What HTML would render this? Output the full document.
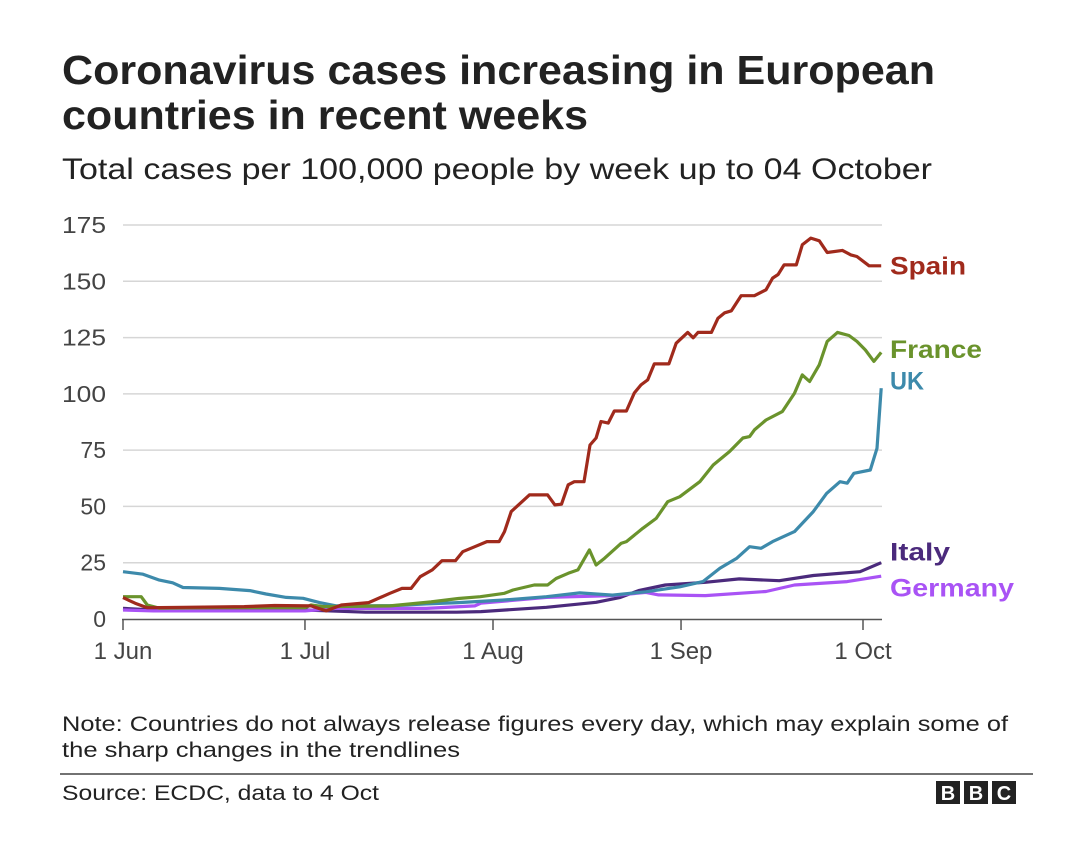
<!DOCTYPE html>
<html><head><meta charset="utf-8"><style>
body{margin:0;width:1080px;height:860px;background:#fff;font-family:"Liberation Sans",Arial,sans-serif;overflow:hidden}
</style></head><body>
<svg width="1080" height="860" font-family="Liberation Sans, Arial, sans-serif">
<text x="62" y="84" font-size="41" font-weight="bold" fill="#222" textLength="873" lengthAdjust="spacingAndGlyphs">Coronavirus cases increasing in European</text>
<text x="62" y="129" font-size="41" font-weight="bold" fill="#222" textLength="526" lengthAdjust="spacingAndGlyphs">countries in recent weeks</text>
<text x="62" y="179" font-size="30" fill="#222" textLength="870" lengthAdjust="spacingAndGlyphs">Total cases per 100,000 people by week up to 04 October</text>
<g id="grid"></g><g id="lines"></g><g id="labels"></g>
<text x="62" y="731" font-size="21" fill="#222" textLength="946" lengthAdjust="spacingAndGlyphs">Note: Countries do not always release figures every day, which may explain some of</text>
<text x="62" y="757" font-size="21" fill="#222" textLength="398" lengthAdjust="spacingAndGlyphs">the sharp changes in the trendlines</text>
<line x1="60" y1="774" x2="1033" y2="774" stroke="#444" stroke-width="1.5"/>
<text x="62" y="800" font-size="21" fill="#222" textLength="317" lengthAdjust="spacingAndGlyphs">Source: ECDC, data to 4 Oct</text>
<g>
<rect x="936" y="781" width="24" height="23" fill="#222"/><rect x="964" y="781" width="24" height="23" fill="#222"/><rect x="992" y="781" width="24" height="23" fill="#222"/>
<text x="948" y="800" font-size="20" font-weight="bold" fill="#fff" text-anchor="middle">B</text>
<text x="976" y="800" font-size="20" font-weight="bold" fill="#fff" text-anchor="middle">B</text>
<text x="1004" y="800" font-size="20" font-weight="bold" fill="#fff" text-anchor="middle">C</text>
</g>
</svg>
<script>
const yTicks=[0,25,50,75,100,125,150,175];
const xTickDays=[0,30,61,92,122];
const xTickLabels=["1 Jun","1 Jul","1 Aug","1 Sep","1 Oct"];
const seriesNames=["Spain","France","UK","Italy","Germany"];
const spainDays=[0,2,4,10,20,25,31,33.5,36,40.5,44,46,47.5,49,51,52.6,54.8,56,58,60,62,62.9,64,67,70,71.2,72.3,73.4,74.4,76,77,78,78.8,80,81,83,84.3,85.4,86.5,87.6,90,91.2,93.1,94,94.8,97,98.1,99.2,100.3,101.9,104.1,106,107.1,108,109,111,112,113.4,114.8,116.1,118.6,120,121,123,125];
const spainVals=[9.5,7,5,5.2,5.5,6,5.8,3.6,6.2,7.3,11.4,13.6,13.6,18.8,21.8,25.9,25.9,29.9,32.1,34.4,34.4,38.8,47.7,55.1,55.1,50.7,51,59.6,61,61,77.3,80.4,87.7,87,92.4,92.4,100.4,104,106.2,113.3,113.3,122.5,127.3,124.9,127.3,127.3,133.6,136,136.9,143.6,143.6,146.2,151.4,153,157.3,157.3,166.2,169.2,168,162.8,163.7,161.7,161,156.9,156.9];
const franceDays=[0,3,4,6,15,30,31,33,44,50.8,55.3,58.9,62.9,64.3,67.8,70,71.4,73.4,75,76.9,78,79.4,82.1,83,85.7,87.9,89.8,91.8,95.1,97.3,100,102.2,103.3,104.1,106,108.7,110.7,112,113.2,114.8,116.1,117.8,119.7,121,122.4,123.8,125];
const franceVals=[9.9,9.9,6.2,4.8,5,5,6.2,5.5,5.8,7.6,9.1,9.9,11.4,12.9,15.1,15.1,18,20.3,21.8,30.7,24,27,33.6,34.4,40.3,44.7,52.1,54.3,61,68.4,74.4,80.4,81,84,88.4,92.1,100.3,108.4,105.5,112.9,123.3,127.3,125.9,123.3,119.5,114.4,118.4];
const ukDays=[0,3.3,6,8.2,9.9,15.9,20.9,23.6,26.9,29.7,32.4,35.2,44.5,50,55.3,62.5,64.3,69.8,75.3,80.7,86.2,91.8,95.6,98.4,101.2,103.3,105.2,107.1,110.7,113.8,116,118.2,119.4,120.5,123.2,124.3,125];
const ukVals=[21,19.9,17.3,16.1,14,13.6,12.6,11.1,9.6,9.2,7.3,5.8,5.9,6.7,7.3,8.4,8.7,9.9,11.6,10.6,12.1,14.3,16.6,22.5,27,32.1,31.4,34.4,38.8,47.7,55.8,61,60.3,64.7,66.2,75.8,102.5];
const italyDays=[0,5,30,40,55,59,69.8,78,82,85,89.4,96,101.6,108.2,113.8,121.5,125];
const italyVals=[4.7,4,4,3,3,3.3,5.2,7.4,9.6,12.6,15.1,16.3,17.8,17,19.3,21,25];
const germanyDays=[0,5,30,35,50,58,59,69.8,80.7,86.2,88.3,96,106,110.7,119.4,125];
const germanyVals=[4,3.6,3.6,4.7,4.7,5.8,7,9.6,10.4,11.8,10.7,10.4,12.2,15.1,16.6,19];
const colors=["#a02a1c","#6a932c","#3d8aab","#4b2a7c","#a953f5"];
const labelVals=[157,120,106,30,14];
const labelWidths=[76,92,34,60,124];
const X=d=>123+d*(863-123)/122;
const Y=v=>619-v*(619-225)/175;
const NS="http://www.w3.org/2000/svg";
function mk(t,a,p){const e=document.createElementNS(NS,t);for(const k in a)e.setAttribute(k,a[k]);p.appendChild(e);return e;}
const grid=document.getElementById('grid');
yTicks.forEach(v=>{
  if(v>0){const l=mk('line',{x1:123,x2:882,y1:Y(v),y2:Y(v),stroke:'#d6d6d6','stroke-width':1.5},grid);
  
  }
  const t=mk('text',{x:106,y:Y(v)+8,'font-size':23,fill:'#444','text-anchor':'end'},grid);t.textContent=v;
  if(String(v).length===3){t.setAttribute('textLength',44);t.setAttribute('lengthAdjust','spacingAndGlyphs');}
  
  
});
const ax=mk('line',{x1:122,x2:882,y1:619.5,y2:619.5,stroke:'#555','stroke-width':1.5},grid);


xTickDays.forEach((d,i)=>{
  mk('line',{x1:X(d),x2:X(d),y1:619,y2:630,stroke:'#555','stroke-width':1.5},grid);
  const t=mk('text',{x:X(d),y:659,'font-size':24,fill:'#444','text-anchor':'middle'},grid);t.textContent=xTickLabels[i];
  
  
});
const days=[spainDays,franceDays,ukDays,italyDays,germanyDays];
const vals=[spainVals,franceVals,ukVals,italyVals,germanyVals];
const lines=document.getElementById('lines');
[3,4,2,1,0].forEach(i=>{
  const pts=days[i].map((d,j)=>X(d).toFixed(1)+','+Y(vals[i][j]).toFixed(1)).join(' ');
  const p=mk('polyline',{points:pts,fill:'none',stroke:colors[i],'stroke-width':3.2,'stroke-linejoin':'round'},lines);
  
  
});
const lab=document.getElementById('labels');
seriesNames.forEach((n,i)=>{
  const t=mk('text',{x:890,y:Y(labelVals[i])+9,'font-size':25,'font-weight':'bold',fill:colors[i],textLength:labelWidths[i],lengthAdjust:'spacingAndGlyphs'},lab);t.textContent=n;
  
  
});
</script>
</body></html>
